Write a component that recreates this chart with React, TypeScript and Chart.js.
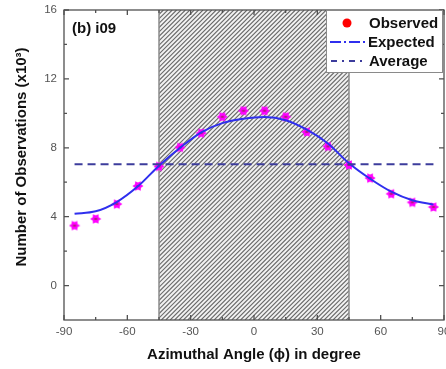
import React, { useEffect, useRef } from 'react';
import { Chart, registerables } from 'chart.js';
Chart.register(...registerables);

const angles = [-85, -75, -65, -55, -45, -35, -25, -15, -5, 5, 15, 25, 35, 45, 55, 65, 75, 85];
const observed = [3.48, 3.87, 4.73, 5.78, 6.92, 8.02, 8.85, 9.8, 10.15, 10.15, 9.8, 8.92, 8.08, 7.0, 6.24, 5.33, 4.83, 4.56];
const expected = [4.17, 4.31, 4.85, 5.76, 6.96, 8.0, 8.9, 9.43, 9.68, 9.78, 9.6, 9.05, 8.25, 7.1, 6.2, 5.45, 4.95, 4.7];
const averageValue = 7.05;
const averageRange = [-85, 85];
const shadedRange = [-45, 45];
const seriesNames = ['Observed', 'Expected', 'Average'];
const xTicks = [-90, -60, -30, 0, 30, 60, 90];
const xMinorTicks = [-75, -45, -15, 15, 45, 75];
const yTicks = [0, 4, 8, 12, 16];
const yMinorTicks = [2, 6, 10, 14];
const xTitle = 'Azimuthal Angle (\u03D5) in degree';
const yTitle = 'Number of Observations (x10\u00B3)';
const panelLabel = '(b) i09';

const OBS_COLOR = '#ff00ff';
const EXP_COLOR = '#2f2fee';
const AVG_COLOR = '#3c3c9c';
const FONT = '"Liberation Sans", Arial, sans-serif';

function makeMarker(): HTMLCanvasElement {
  const c = document.createElement('canvas');
  c.width = 12;
  c.height = 12;
  const g = c.getContext('2d')!;
  g.fillStyle = OBS_COLOR;
  g.beginPath();
  const n = 6;
  for (let i = 0; i < n * 2; i++) {
    const r = i % 2 === 0 ? 5.5 : 3.4;
    const a = (Math.PI * i) / n;
    const px = 6 + r * Math.cos(a);
    const py = 6 + r * Math.sin(a);
    if (i === 0) g.moveTo(px, py);
    else g.lineTo(px, py);
  }
  g.closePath();
  g.fill();
  g.fillStyle = '#b0207a';
  g.fillRect(4.5, 5, 3, 2);
  return c;
}

const decorPlugin = {
  id: 'decor',
  beforeDatasetsDraw(chart: any) {
    const { ctx, chartArea: a, scales } = chart;
    const x = scales.x;
    const x0 = x.getPixelForValue(shadedRange[0]);
    const x1 = x.getPixelForValue(shadedRange[1]);
    const h = a.bottom - a.top;
    ctx.save();
    ctx.fillStyle = '#f2f2f2';
    ctx.fillRect(x0, a.top, x1 - x0, h);
    ctx.beginPath();
    ctx.rect(x0, a.top, x1 - x0, h);
    ctx.clip();
    ctx.strokeStyle = '#6a6a6a';
    ctx.lineWidth = 1.1;
    ctx.beginPath();
    for (let k = -h; k < x1 - x0 + h; k += 4.4) {
      ctx.moveTo(x0 + k, a.bottom);
      ctx.lineTo(x0 + k + h, a.top);
    }
    ctx.stroke();
    ctx.restore();
    ctx.save();
    ctx.strokeStyle = '#8a8a8a';
    ctx.lineWidth = 1.5;
    ctx.beginPath();
    ctx.moveTo(x0, a.top);
    ctx.lineTo(x0, a.bottom);
    ctx.moveTo(x1, a.top);
    ctx.lineTo(x1, a.bottom);
    ctx.stroke();
    ctx.restore();
  },
  afterDatasetsDraw(chart: any) {
    const { ctx, chartArea: a, scales } = chart;
    const x = scales.x;
    const y = scales.y;
    ctx.save();
    ctx.strokeStyle = '#505050';
    ctx.lineWidth = 1.3;
    ctx.strokeRect(a.left, a.top, a.right - a.left, a.bottom - a.top);
    ctx.beginPath();
    const tick = (vals: number[], len: number) => {
      vals.forEach((v) => {
        const px = x.getPixelForValue(v);
        ctx.moveTo(px, a.bottom);
        ctx.lineTo(px, a.bottom - len);
        ctx.moveTo(px, a.top);
        ctx.lineTo(px, a.top + len);
      });
    };
    const ytick = (vals: number[], len: number) => {
      vals.forEach((v) => {
        const py = y.getPixelForValue(v);
        ctx.moveTo(a.left, py);
        ctx.lineTo(a.left + len, py);
        ctx.moveTo(a.right, py);
        ctx.lineTo(a.right - len, py);
      });
    };
    tick(xTicks, 5);
    tick(xMinorTicks, 3);
    ytick(yTicks, 5);
    ytick(yMinorTicks, 3);
    ctx.stroke();
    // x tick labels
    ctx.fillStyle = '#555';
    ctx.font = `11.5px ${FONT}`;
    ctx.textAlign = 'center';
    ctx.textBaseline = 'middle';
    xTicks.forEach((v) => {
      ctx.fillText(String(v), x.getPixelForValue(v), a.bottom + 12);
    });
    ctx.restore();
  },
  afterDraw(chart: any) {
    const { ctx, chartArea: a } = chart;
    ctx.save();
    // panel label
    ctx.fillStyle = '#111';
    ctx.font = `bold 15px ${FONT}`;
    ctx.textAlign = 'left';
    ctx.textBaseline = 'middle';
    ctx.fillText(panelLabel, a.left + 8, a.top + 19);

    // legend
    const lx = 326, ly = a.top, lw = 116, lh = 62;
    ctx.fillStyle = '#fff';
    ctx.fillRect(lx, ly, lw, lh);
    ctx.strokeStyle = '#8a8a8a';
    ctx.lineWidth = 1;
    ctx.strokeRect(lx + 0.5, ly + 0.5, lw, lh);
    const rowY = [ly + 13, ly + 32, ly + 51];
    // observed dot
    ctx.fillStyle = '#ff0000';
    ctx.beginPath();
    ctx.arc(lx + 21, rowY[0], 4.5, 0, Math.PI * 2);
    ctx.fill();
    // expected
    ctx.lineWidth = 2;
    ctx.strokeStyle = EXP_COLOR;
    ctx.setLineDash([11, 3, 2, 3]);
    ctx.beginPath();
    ctx.moveTo(lx + 4, rowY[1]);
    ctx.lineTo(lx + 41, rowY[1]);
    ctx.stroke();
    // average
    ctx.strokeStyle = AVG_COLOR;
    ctx.setLineDash([6, 5, 2, 5]);
    ctx.beginPath();
    ctx.moveTo(lx + 5, rowY[2]);
    ctx.lineTo(lx + 37, rowY[2]);
    ctx.stroke();
    ctx.setLineDash([]);
    ctx.fillStyle = '#111';
    ctx.font = `bold 15px ${FONT}`;
    ctx.textAlign = 'left';
    ctx.textBaseline = 'middle';
    ctx.fillText(seriesNames[0], lx + 43, rowY[0] + 1);
    ctx.fillText(seriesNames[1], lx + 42, rowY[1] + 1);
    ctx.fillText(seriesNames[2], lx + 43, rowY[2] + 1);

    // axis titles
    ctx.font = `bold 15px ${FONT}`;
    ctx.textAlign = 'center';
    ctx.fillText(xTitle, (a.left + a.right) / 2, 355);
    ctx.translate(22, 157);
    ctx.rotate(-Math.PI / 2);
    ctx.fillText(yTitle, 0, 0);
    ctx.restore();
  },
};

export default function App() {
  const ref = useRef<HTMLCanvasElement>(null);
  useEffect(() => {
    if (!ref.current) return;
    const marker = makeMarker();
    const chart = new Chart(ref.current, {
      type: 'scatter',
      data: {
        datasets: [
          {
            label: seriesNames[2],
            data: averageRange.map((v) => ({ x: v, y: averageValue })),
            showLine: true,
            borderColor: AVG_COLOR,
            borderWidth: 2,
            borderDash: [8, 5],
            pointRadius: 0,
          },
          {
            label: seriesNames[1],
            data: angles.map((v, i) => ({ x: v, y: expected[i] })),
            showLine: true,
            borderColor: EXP_COLOR,
            borderWidth: 2,
            cubicInterpolationMode: 'monotone',
            pointRadius: 0,
          },
          {
            label: seriesNames[0],
            data: angles.map((v, i) => ({ x: v, y: observed[i] })),
            showLine: false,
            pointStyle: marker as any,
            pointRadius: 5,
            backgroundColor: OBS_COLOR,
            borderColor: OBS_COLOR,
          },
        ],
      },
      options: {
        animation: false,
        responsive: false,
        layout: { autoPadding: false, padding: { top: 10, right: 2, left: 0, bottom: 0 } },
        plugins: { legend: { display: false }, tooltip: { enabled: false } },
        scales: {
          x: {
            type: 'linear',
            min: -90,
            max: 90,
            grid: { display: false, drawTicks: false },
            border: { display: false },
            afterBuildTicks: (s: any) => {
              s.ticks = xTicks.map((v) => ({ value: v }));
            },
            afterFit: (s: any) => {
              s.height = 49;
              s.paddingLeft = 0;
              s.paddingRight = 0;
            },
            ticks: { display: false },
          },
          y: {
            type: 'linear',
            min: -2,
            max: 16,
            grid: { display: false, drawTicks: false },
            border: { display: false },
            afterBuildTicks: (s: any) => {
              s.ticks = yTicks.map((v) => ({ value: v }));
            },
            afterFit: (s: any) => {
              s.width = 64;
              s.paddingTop = 0;
              s.paddingBottom = 0;
            },
            ticks: {
              color: '#555',
              font: { family: FONT, size: 11.5 },
              padding: 7,
              autoSkip: false,
            },
          },
        },
      },
      plugins: [decorPlugin],
    });
    return () => chart.destroy();
  }, []);
  return (
    <div style={{ position: 'fixed', left: 0, top: 0, width: 446, height: 369, background: '#fff' }}>
      <canvas ref={ref} width={446} height={369} style={{ display: 'block' }} />
    </div>
  );
}
